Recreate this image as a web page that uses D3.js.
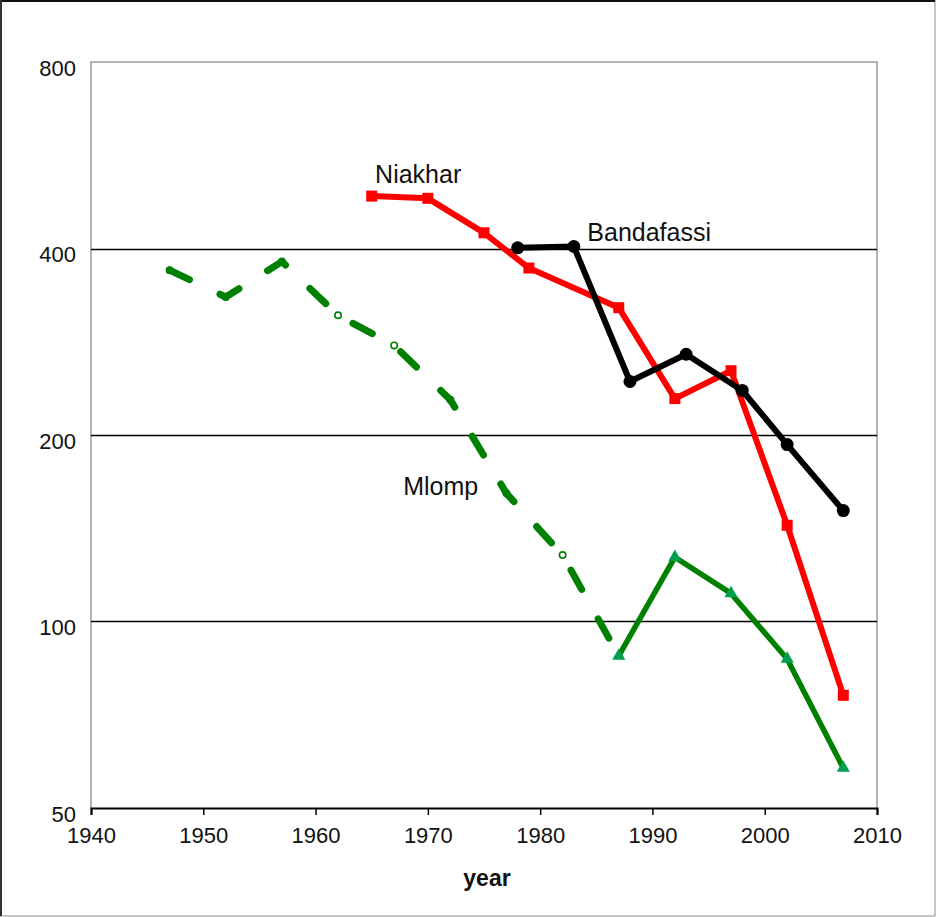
<!DOCTYPE html>
<html>
<head>
<meta charset="utf-8">
<script src="https://cdn.jsdelivr.net/npm/d3@7"></script>
<style>
  html, body { margin: 0; padding: 0; background: #fff; }
  svg { display: block; }
  text { font-family: Arial, "Liberation Sans", sans-serif; fill: #111; }
</style>
</head>
<body>
<svg id="chart" width="936" height="917"></svg>
<script>
// ---- data ----
const xTicks = [1940, 1950, 1960, 1970, 1980, 1990, 2000, 2010];
const yTicks = [50, 100, 200, 400, 800];
const gridValues = [100, 200, 400];

const niakharYears  = [1965, 1970, 1975, 1979, 1987, 1992, 1997, 2002, 2007];
const niakharValues = [486, 482, 424, 372, 321, 229, 254, 143, 76];

const bandafassiYears  = [1978, 1983, 1988, 1993, 1998, 2002, 2007];
const bandafassiValues = [401, 403, 244, 270, 236, 193, 151];

const mlompEarlyYears  = [1947, 1952, 1957, 1962, 1967, 1972, 1977, 1982, 1987];
const mlompEarlyValues = [369, 334, 381, 312, 279, 228, 161, 128, 88];

const mlompLateYears  = [1987, 1992, 1997, 2002, 2007];
const mlompLateValues = [88, 127, 111, 87, 58];

const seriesLabels = [
  { name: "Niakhar",    year: 1965.3, value: 511 },
  { name: "Bandafassi", year: 1984.2, value: 411 },
  { name: "Mlomp",      year: 1967.8, value: 160 }
];
const xTitle = "year";

// ---- layout ----
const svg = d3.select("#chart");
const W = 936, H = 917;
const pL = 91, pR = 877, pT = 62, pB = 808;

const x = d3.scaleLinear().domain([1940, 2010]).range([pL, pR]);
const y = d3.scaleLog().domain([50, 800]).range([pB, pT]);

// outer frame
svg.append("rect").attr("x", 0.5).attr("y", 0.5).attr("width", W - 1.5).attr("height", H - 1.5)
  .attr("fill", "#fff").attr("stroke", "#8c8c8c").attr("stroke-width", 1);
svg.append("line").attr("x1", 0).attr("x2", W - 1).attr("y1", 1).attr("y2", 1)
  .attr("stroke", "#111").attr("stroke-width", 2);
svg.append("line").attr("x1", 1).attr("x2", 1).attr("y1", 0).attr("y2", H - 1)
  .attr("stroke", "#333").attr("stroke-width", 2);

// plot frame (top, left, right)
svg.append("path")
  .attr("d", `M${pL},${pB}V${pT}H${pR}V${pB}`)
  .attr("fill", "none").attr("stroke", "#9a9a9a").attr("stroke-width", 1.5);

// gridlines
svg.append("g").selectAll("line").data(gridValues).join("line")
  .attr("x1", pL).attr("x2", pR)
  .attr("y1", d => Math.round(y(d)) + 0.5).attr("y2", d => Math.round(y(d)) + 0.5)
  .attr("stroke", "#000").attr("stroke-width", 1.3);

// x axis
const xAxis = svg.append("g").attr("transform", `translate(0,${pB})`)
  .call(d3.axisBottom(x).tickValues(xTicks).tickFormat(d3.format("d")).tickSize(7).tickPadding(8));
xAxis.select(".domain").attr("stroke", "#000").attr("stroke-width", 2);
xAxis.selectAll(".tick line").attr("stroke", "#000").attr("stroke-width", 1.5);
xAxis.selectAll(".tick text").attr("font-size", 22).attr("fill", "#111")
  .attr("font-family", "Arial, 'Liberation Sans', sans-serif").attr("dy", "0.93em");

// y axis labels
const yAxis = svg.append("g").attr("transform", `translate(${pL},0)`)
  .call(d3.axisLeft(y).tickValues(yTicks).tickFormat(d3.format("d")).tickSize(0).tickPadding(15));
yAxis.select(".domain").remove();
yAxis.selectAll(".tick text").attr("font-size", 22).attr("fill", "#111")
  .attr("font-family", "Arial, 'Liberation Sans', sans-serif").attr("dy", "0.6em");

// x title
svg.append("text").attr("x", (pL + pR) / 2 + 3).attr("y", 886)
  .attr("text-anchor", "middle").attr("font-size", 23).attr("font-weight", "bold").text(xTitle);

const line = d3.line().x(d => x(d[0])).y(d => y(d[1]));

// Mlomp early (dashed) — markers beneath
const mlompEarly = mlompEarlyYears.map((d, i) => [d, mlompEarlyValues[i]]);
svg.append("g").selectAll("circle").data(mlompEarly.slice(0, -1)).join("circle")
  .attr("cx", d => x(d[0])).attr("cy", d => y(d[1])).attr("r", 3.2)
  .attr("fill", "#fff").attr("stroke", "#008000").attr("stroke-width", 1.6);
svg.append("path").datum(mlompEarly).attr("d", line)
  .attr("fill", "none").attr("stroke", "#008000").attr("stroke-width", 7)
  .attr("stroke-linecap", "round").attr("stroke-linejoin", "round")
  .attr("stroke-dasharray", "22 33.8");

// Mlomp late (solid)
const mlompLate = mlompLateYears.map((d, i) => [d, mlompLateValues[i]]);
svg.append("path").datum(mlompLate).attr("d", line)
  .attr("fill", "none").attr("stroke", "#008000").attr("stroke-width", 5.5)
  .attr("stroke-linejoin", "round");
svg.append("g").selectAll("path").data(mlompLate).join("path")
  .attr("transform", d => `translate(${x(d[0])},${y(d[1])})`)
  .attr("d", d3.symbol(d3.symbolTriangle, 75))
  .attr("fill", "#00a050");

// Niakhar
const niakhar = niakharYears.map((d, i) => [d, niakharValues[i]]);
svg.append("path").datum(niakhar).attr("d", line)
  .attr("fill", "none").attr("stroke", "#ff0000").attr("stroke-width", 6)
  .attr("stroke-linejoin", "round");
svg.append("g").selectAll("rect").data(niakhar).join("rect")
  .attr("x", d => x(d[0]) - 5.5).attr("y", d => y(d[1]) - 5.5)
  .attr("width", 11).attr("height", 11).attr("fill", "#ff0000");

// Bandafassi
const banda = bandafassiYears.map((d, i) => [d, bandafassiValues[i]]);
svg.append("path").datum(banda).attr("d", line)
  .attr("fill", "none").attr("stroke", "#000").attr("stroke-width", 6)
  .attr("stroke-linejoin", "round");
svg.append("g").selectAll("circle").data(banda).join("circle")
  .attr("cx", d => x(d[0])).attr("cy", d => y(d[1])).attr("r", 6.5)
  .attr("fill", "#000");

// series labels
svg.append("g").selectAll("text").data(seriesLabels).join("text")
  .attr("x", d => x(d.year)).attr("y", d => y(d.value))
  .attr("font-size", 25).attr("fill", "#1a1a3a").text(d => d.name);
</script>
</body>
</html>
